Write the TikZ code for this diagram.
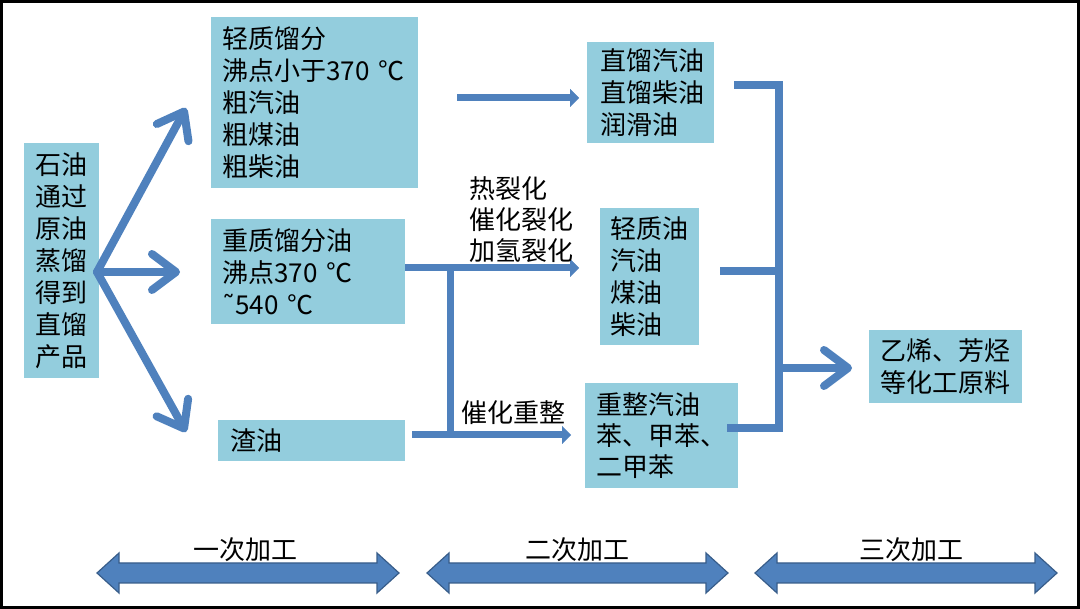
\documentclass[tikz,border=0pt]{standalone}
\usepackage{fontspec}
\setmainfont{Noto Sans CJK SC}
\newfontfamily\dejavu{DejaVu Sans}
\usetikzlibrary{arrows.meta}
\definecolor{boxblue}{RGB}{147,205,221}
\definecolor{arrowblue}{RGB}{79,129,189}
\definecolor{arrowedge}{RGB}{56,93,138}
\begin{document}
\begin{tikzpicture}[x=1pt,y=-1pt,
  txt/.style={font=\fontsize{26}{32}\selectfont, text=black, inner sep=0pt},
  box/.style={txt, fill=boxblue, anchor=north west, align=left, inner ysep=0pt},
  bigarrow/.style={draw=arrowblue, line width=8pt, line cap=round, line join=round,
     -{Straight Barb[length=24pt,width=36pt,line cap=round,line join=round]}},
  flow/.style={draw=arrowblue, line width=7pt,
     -{Triangle[length=9pt,width=18pt,line width=0.01pt]}},
  bar/.style={draw=arrowblue, line width=7pt},
  bracket/.style={draw=arrowblue, line width=8pt, line join=miter},
  dbl/.style={fill=arrowblue, draw=arrowedge, line width=1.2pt, line join=miter}
]
\useasboundingbox (0,0) rectangle (1080,609);
\draw[line width=3pt] (1.5,1.5) rectangle (1078.5,607.5);

% boxes
\node[box, align=center, inner xsep=11pt, text width=53pt, minimum width=75pt, minimum height=235pt] (src) at (24,143)
  {石油\\通过\\原油\\蒸馏\\得到\\直馏\\产品};
\node[box, inner xsep=11pt, text width=185pt, minimum width=207pt, minimum height=171pt] (light) at (211,17)
  {轻质馏分\\沸点小于370 ℃\\粗汽油\\粗煤油\\粗柴油};
\node[box, inner xsep=11pt, text width=172pt, minimum width=194pt, minimum height=105pt] (heavy) at (211,219)
  {重质馏分油\\沸点370 ℃\\{\dejavu ˜}540 ℃};
\node[box, inner xsep=12pt, text width=163pt, minimum width=187pt, minimum height=41pt] (zha) at (218,420)
  {渣油};
\node[box, inner xsep=13pt, text width=101pt, minimum width=127pt, minimum height=101pt] (zl) at (587,42)
  {直馏汽油\\直馏柴油\\润滑油};
\node[box, inner xsep=10pt, text width=79pt, minimum width=99pt, minimum height=137pt] (qz) at (600,208)
  {轻质油\\汽油\\煤油\\柴油};
\node[box, inner xsep=11pt, text width=131pt, minimum width=153pt, minimum height=105pt, font=\fontsize{26}{31}\selectfont] (cz) at (585,383)
  {重整汽油\\苯、甲苯、\\二甲苯};
\node[box, align=center, inner xsep=10pt, text width=133pt, minimum width=153pt, minimum height=73pt] (yx) at (869,330)
  {乙烯、芳烃\\等化工原料};

% big arrows from source
\coordinate (o) at (97,272);
\coordinate (t1) at (186,108);
\coordinate (t2) at (180,272);
\coordinate (t3) at (186,432);
\draw[bigarrow] (o) -- (t1);
\draw[bigarrow] (o) -- (t2);
\draw[bigarrow] (o) -- (t3);

% second stage flows
\coordinate (l1) at (457,98);
\coordinate (l2) at (579,98);
\draw[flow] (l1) -- (l2);
\coordinate (h1) at (405,268);
\coordinate (h2) at (579,268);
\draw[flow] (h1) -- (h2);
\coordinate (j1) at (450,268);
\coordinate (j2) at (450,435);
\draw[bar] (j1) -- (j2);
\coordinate (z1) at (412,435);
\coordinate (z2) at (571,435);
\draw[flow] (z1) -- (z2);

\node[txt, anchor=west, align=left, font=\fontsize{26}{31}\selectfont] (crack) at (469,220) {热裂化\\催化裂化\\加氢裂化};
\node[txt, anchor=west] (reform) at (461,413) {催化重整};

% bracket
\coordinate (b1) at (734,85);
\coordinate (b2) at (779,85);
\coordinate (b3) at (779,428);
\coordinate (b4) at (727,428);
\draw[bracket] (b1) -- (b2) -- (b3) -- (b4);
\coordinate (m1) at (720,271);
\coordinate (m2) at (779,271);
\draw[bracket] (m1) -- (m2);
\coordinate (r1) at (779,368);
\coordinate (r2) at (852,368);
\draw[bigarrow] (r1) -- (r2);

% bottom double arrows
\foreach \a/\b in {97/399, 427/728, 755/1057}{
  \filldraw[dbl] (\a,573) -- (\a+22,553) -- (\a+22,563) -- (\b-22,563) -- (\b-22,553) -- (\b,573)
     -- (\b-22,593) -- (\b-22,583) -- (\a+22,583) -- (\a+22,593) -- cycle;
}
\node[txt] (s1) at (245,550) {一次加工};
\node[txt] (s2) at (577,550) {二次加工};
\node[txt] (s3) at (911,550) {三次加工};
\end{tikzpicture}
\end{document}
